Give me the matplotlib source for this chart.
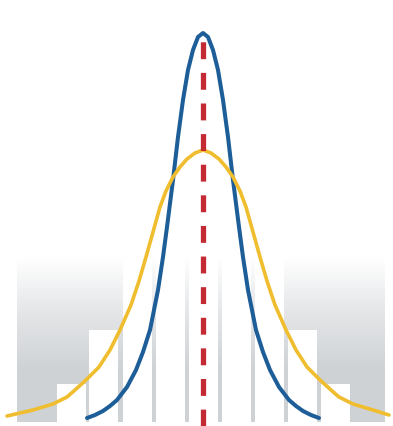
import numpy as np
import matplotlib
matplotlib.use("Agg")
import matplotlib.pyplot as plt
from matplotlib.colors import LinearSegmentedColormap

# units: 1 = 10 px, x measured from the centre line, y from the baseline
# narrow curve (blue)
blue_x = [-11.6, -10.8, -10.0, -9.3, -8.6, -7.6, -6.7, -6.0, -5.3, -4.5, -4.0, -3.6, -3.0, -2.5, -2.0, -1.5,
          -1.0, -0.5, 0.0, 0.5, 1.0, 1.5, 2.0, 2.5, 3.0, 3.6, 4.0, 4.5, 5.3, 6.0, 6.7, 7.6, 8.6, 9.3,
          10.0, 10.8, 11.6]
blue_y = [0.7, 1.0, 1.4, 1.9, 2.5, 3.8, 5.5, 7.3, 9.5, 13.5, 16.8, 19.8, 24.5, 28.8, 32.5, 35.5,
          37.5, 38.8, 39.2, 38.8, 37.5, 35.5, 32.5, 28.8, 24.5, 19.8, 16.8, 13.5, 9.5, 7.3, 5.5, 3.8, 2.5, 1.9,
          1.4, 1.0, 0.7]

# wide curve (yellow)
yellow_x = [-19.6, -18.3, -17.0, -16.0, -15.0, -13.6, -12.8, -11.7, -10.4, -9.3, -8.3, -7.2, -6.4, -5.7, -5.0,
            -4.3, -3.7, -3.0, -2.3, -1.6, -0.8, 0.0, 0.8, 1.6, 2.3, 3.0, 3.7, 4.3, 5.0, 5.7, 6.4, 7.2, 8.3,
            9.3, 10.4, 11.7, 12.8, 13.6, 15.0, 16.0, 17.0, 18.6]
yellow_y = [0.9, 1.2, 1.5, 1.8, 2.1, 2.8, 3.5, 4.5, 5.8, 7.5, 9.5, 12.0, 14.4, 16.8, 19.3,
            21.8, 23.4, 24.8, 25.8, 26.6, 27.2, 27.5, 27.2, 26.6, 25.8, 24.8, 23.4, 21.8, 19.3, 16.8, 14.4,
            12.0, 9.5, 7.5, 5.8, 4.5, 3.5, 2.8, 2.1, 1.8, 1.5, 1.0]

# background histogram
bar_pos = [-13.2, -9.9, -6.6, -3.3, 0.0, 3.3, 6.6, 9.9, 13.2]
bar_h = [3.8, 9.2, 20.0, 22.0, 24.0, 22.0, 20.0, 9.2, 3.8]

center = 0.0

fig = plt.figure(figsize=(3.93, 4.26), dpi=100)
ax = fig.add_axes([0, 0, 1, 1])
ax.set_xlim(-20.3, 19.0)
ax.set_ylim(-0.1, 42.5)
ax.axis("off")

# grey panel, white at the top fading to grey
grey = LinearSegmentedColormap.from_list("g", ["#ffffff", "#e4e6e8", "#d0d3d6", "#cfd2d5"])
grad = np.linspace(1, 0, 200).reshape(-1, 1)
ax.imshow(grad, cmap=grey, aspect="auto", extent=(-18.6, 18.2, 0.3, 16.8),
          origin="lower", zorder=1, vmin=0, vmax=1)

ax.bar(bar_pos, bar_h, width=2.9, bottom=0.3, color="white", zorder=2)

ax.plot(blue_x, blue_y, color="#1d5d98", lw=2.9, solid_capstyle="round",
        solid_joinstyle="round", zorder=3)
ax.plot(yellow_x, yellow_y, color="#f0bd2e", lw=2.6, solid_capstyle="round",
        solid_joinstyle="round", zorder=4)
ax.plot([center, center], [-0.1, 38.6], color="#c42a33", lw=3.8,
        dashes=(3.2, 2.6), zorder=5)

fig.savefig("out.png", dpi=100)
